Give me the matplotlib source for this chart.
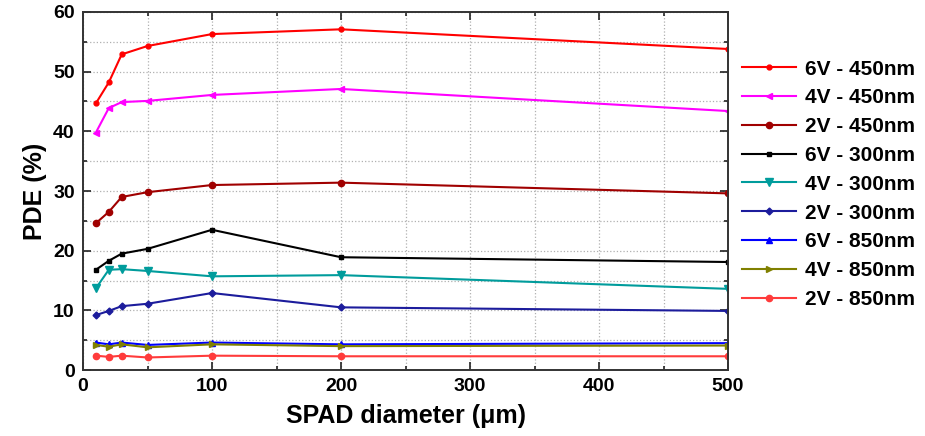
import matplotlib
matplotlib.use("Agg")
import matplotlib.pyplot as plt
from matplotlib.ticker import MultipleLocator

plt.rcParams['font.family'] = ['Liberation Sans', 'DejaVu Sans']
plt.rcParams['font.weight'] = 'bold'

diam = [10, 20, 30, 50, 100, 200, 500]
labels = ["6V - 450nm", "4V - 450nm", "2V - 450nm", "6V - 300nm", "4V - 300nm",
          "2V - 300nm", "6V - 850nm", "4V - 850nm", "2V - 850nm"]
v6_450 = [44.7, 48.2, 52.9, 54.3, 56.3, 57.1, 53.8]
v4_450 = [39.8, 43.9, 44.9, 45.1, 46.1, 47.1, 43.4]
v2_450 = [24.6, 26.5, 29.0, 29.8, 31.0, 31.4, 29.6]
v6_300 = [16.8, 18.3, 19.5, 20.3, 23.5, 18.9, 18.1]
v4_300 = [13.7, 16.8, 16.9, 16.6, 15.7, 15.9, 13.6]
v2_300 = [9.2, 9.9, 10.7, 11.1, 12.9, 10.5, 9.9]
v6_850 = [4.6, 4.3, 4.6, 4.2, 4.6, 4.3, 4.5]
v4_850 = [4.2, 3.9, 4.3, 3.8, 4.3, 4.0, 4.1]
v2_850 = [2.4, 2.2, 2.4, 2.1, 2.4, 2.3, 2.3]

series = [v6_450, v4_450, v2_450, v6_300, v4_300, v2_300, v6_850, v4_850, v2_850]
colors = ["#ff0000", "#ff00ff", "#a00000", "#000000", "#009c9c",
          "#1c1c9c", "#0000ff", "#808000", "#ff3b3b"]
markers = ["o", "<", "o", "s", "v", "D", "^", ">", "o"]
msizes = [3.5, 4.5, 4.5, 3.5, 5.5, 3.5, 4.5, 4.5, 4.5]

fig = plt.figure(figsize=(9.25, 4.36), dpi=100)
ax = fig.add_axes([83/925, 1-370/436, (728-83)/925, (370-12)/436])

for y, c, m, ms, lab in zip(series, colors, markers, msizes, labels):
    ax.plot(diam, y, color=c, marker=m, markersize=ms, linewidth=1.5, label=lab)

ax.set_xlim(0, 500)
ax.set_ylim(0, 60)
ax.xaxis.set_major_locator(MultipleLocator(100))
ax.xaxis.set_minor_locator(MultipleLocator(50))
ax.yaxis.set_major_locator(MultipleLocator(10))
ax.yaxis.set_minor_locator(MultipleLocator(5))
ax.grid(which='both', color='#b0b0b0', linestyle=':', linewidth=0.9)
ax.tick_params(which='both', direction='in', top=True, right=True, labelsize=14, colors='#222222')
ax.tick_params(which='major', length=6, width=1.2, pad=6)
ax.tick_params(which='minor', length=3, width=1.2)
for lab in ax.get_xticklabels() + ax.get_yticklabels():
    lab.set_fontweight('bold')
    lab.set_color('black')
for s in ax.spines.values():
    s.set_linewidth(1.4)
    s.set_color('#333333')

ax.set_xlabel("SPAD diameter (μm)", fontsize=18, fontweight='bold', labelpad=6)
ax.set_ylabel("PDE (%)", fontsize=18, fontweight='bold', labelpad=4)

leg = ax.legend(loc='upper left', bbox_to_anchor=(1.022, 0.867), frameon=False,
                prop={'size': 15, 'weight': 'bold'}, handlelength=2.6,
                labelspacing=0.47, handletextpad=0.4, borderaxespad=0.0,
                borderpad=0.0)

fig.savefig("out.png", dpi=100)
